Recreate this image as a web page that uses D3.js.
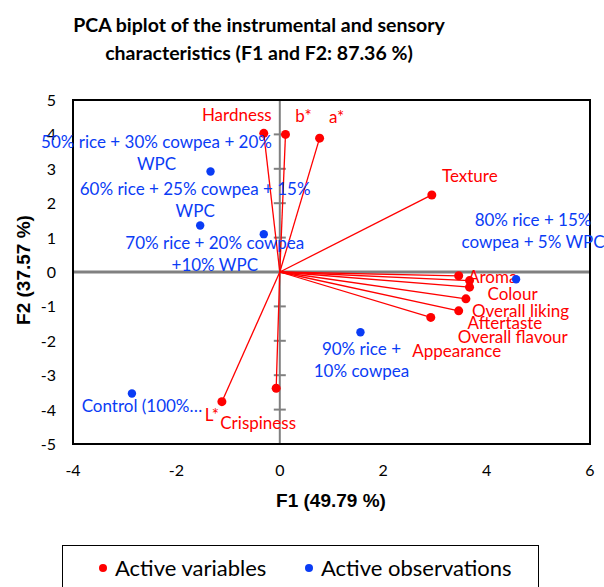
<!DOCTYPE html>
<html>
<head>
<meta charset="utf-8">
<script src="https://cdn.jsdelivr.net/npm/d3@7"></script>
<style>
  body { margin: 0; background: #fff; }
  svg { display: block; }
</style>
</head>
<body>
<div id="chart"></div>
<script>
// data
const varNames = ["Hardness", "b*", "a*", "Texture", "Aroma", "Colour", "Overall liking",
                  "Aftertaste", "Overall flavour", "Appearance", "L*", "Crispiness"];
const varF1 = [-0.31, 0.11, 0.77, 2.94, 3.46, 3.67, 3.67, 3.60, 3.46, 2.92, -1.12, -0.07];
const varF2 = [4.03, 4.00, 3.89, 2.24, -0.11, -0.25, -0.44, -0.78, -1.13, -1.32, -3.77, -3.38];

const obsNames = [["50% rice + 30% cowpea + 20%", "WPC"],
                  ["60% rice + 25% cowpea + 15%", "WPC"],
                  ["70% rice + 20% cowpea", "+10% WPC"],
                  ["80% rice + 15%", "cowpea + 5% WPC"],
                  ["90% rice +", "10% cowpea"],
                  ["Control (100%…"]];
const obsF1 = [-1.34, -1.54, -0.31, 4.57, 1.56, -2.86];
const obsF2 = [2.92, 1.35, 1.10, -0.21, -1.75, -3.53];

const xTicks = [-4, -2, 0, 2, 4, 6];
const yTicks = [-5, -4, -3, -2, -1, 0, 1, 2, 3, 4, 5];

// label placement (px, from the point) – layout only
const varLabelOff = [[-27, -18], [18, -18], [17, -21], [38, -19], [34, 1], [43, 13], [51, 24],
                     [39, 24], [54, 26], [26, 34], [-10, 13], [-18, 35]];
const obsLabelOff = [[-54, -30], [-5, -37], [-49, 9], [17, -59], [1, 17], [10, 13]];

const W = 604, H = 587;
const red = "#ff0000", blue = "#0a3cf5";
const font = "Lato, 'Open Sans', sans-serif";

const svg = d3.select("#chart").append("svg")
  .attr("width", W).attr("height", H)
  .style("font-family", font);

const x = d3.scaleLinear().domain([-4, 6]).range([73, 590]);
const y = d3.scaleLinear().domain([-5, 5]).range([444, 100]);

// title
svg.append("text").attr("x", 259).attr("y", 32)
  .attr("text-anchor", "middle").attr("font-weight", "bold").attr("font-size", 19.5)
  .text("PCA biplot of the instrumental and sensory");
svg.append("text").attr("x", 259).attr("y", 60)
  .attr("text-anchor", "middle").attr("font-weight", "bold").attr("font-size", 19.5)
  .text("characteristics (F1 and F2: 87.36 %)");

// zero lines (gray), vertical one carries the tick marks
svg.append("line").attr("x1", x(-4)).attr("x2", x(6)).attr("y1", y(0)).attr("y2", y(0))
  .attr("stroke", "#808080").attr("stroke-width", 3);
svg.append("line").attr("x1", x(0)).attr("x2", x(0)).attr("y1", y(5)).attr("y2", y(-5))
  .attr("stroke", "#808080").attr("stroke-width", 2);
svg.selectAll(".ytk").data(yTicks).enter().append("line")
  .attr("x1", x(0) - 6).attr("x2", x(0) + 6)
  .attr("y1", d => y(d)).attr("y2", d => y(d))
  .attr("stroke", "#808080").attr("stroke-width", 2);

// plot frame
svg.append("rect").attr("x", x(-4)).attr("y", y(5))
  .attr("width", x(6) - x(-4)).attr("height", y(-5) - y(5))
  .attr("fill", "none").attr("stroke", "#000").attr("stroke-width", 2);

// tick labels
svg.selectAll(".xl").data(xTicks).enter().append("text")
  .attr("x", d => x(d)).attr("y", 476)
  .attr("text-anchor", "middle").attr("font-size", 16)
  .text(d => d);
svg.selectAll(".yl").data(yTicks).enter().append("text")
  .attr("x", 56).attr("y", d => y(d) + 6)
  .attr("text-anchor", "end").attr("font-size", 16)
  .text(d => d);

// axis titles
svg.append("text").attr("x", 331).attr("y", 507)
  .attr("text-anchor", "middle").attr("font-weight", "bold").attr("font-size", 19)
  .style("font-family", "'Liberation Sans', Arial, sans-serif")
  .text("F1 (49.79 %)");
svg.append("text").attr("transform", "translate(30,270) rotate(-90)")
  .attr("text-anchor", "middle").attr("font-weight", "bold").attr("font-size", 19)
  .style("font-family", "'Liberation Sans', Arial, sans-serif")
  .text("F2 (37.57 %)");

// vectors for the variables
const vars = varNames.map((n, i) => ({ name: n, f1: varF1[i], f2: varF2[i], off: varLabelOff[i] }));
svg.selectAll(".vec").data(vars).enter().append("line")
  .attr("x1", x(0)).attr("y1", y(0))
  .attr("x2", d => x(d.f1)).attr("y2", d => y(d.f2))
  .attr("stroke", red).attr("stroke-width", 1.3);
svg.selectAll(".vdot").data(vars).enter().append("circle")
  .attr("cx", d => x(d.f1)).attr("cy", d => y(d.f2)).attr("r", 4.5)
  .attr("fill", red);
svg.selectAll(".vlab").data(vars).enter().append("text")
  .attr("x", d => x(d.f1) + d.off[0]).attr("y", d => y(d.f2) + d.off[1])
  .attr("dy", "0.35em").attr("text-anchor", "middle").attr("font-size", 17)
  .attr("fill", red).text(d => d.name);

// observations
const obs = obsNames.map((n, i) => ({ lines: n, f1: obsF1[i], f2: obsF2[i], off: obsLabelOff[i] }));
svg.selectAll(".odot").data(obs).enter().append("circle")
  .attr("cx", d => x(d.f1)).attr("cy", d => y(d.f2)).attr("r", 4.2)
  .attr("fill", blue);
const olab = svg.selectAll(".olab").data(obs).enter().append("text")
  .attr("text-anchor", "middle").attr("font-size", 17).attr("fill", blue);
olab.selectAll("tspan").data(d => d.lines.map(l => ({ l: l, p: d }))).enter().append("tspan")
  .attr("x", d => x(d.p.f1) + d.p.off[0])
  .attr("y", (d, j) => y(d.p.f2) + d.p.off[1] + j * 22)
  .attr("dy", "0.35em")
  .text(d => d.l);

// legend
svg.append("rect").attr("x", 62.5).attr("y", 545.5).attr("width", 476).attr("height", 60)
  .attr("fill", "#fff").attr("stroke", "#000").attr("stroke-width", 1);
const legend = [["Active variables", red, 103], ["Active observations", blue, 309]];
legend.forEach(l => {
  svg.append("circle").attr("cx", l[2]).attr("cy", 568).attr("r", 4).attr("fill", l[1]);
  svg.append("text").attr("x", l[2] + 12).attr("y", 576).attr("font-size", 22)
    .text(l[0]);
});
</script>
</body>
</html>
